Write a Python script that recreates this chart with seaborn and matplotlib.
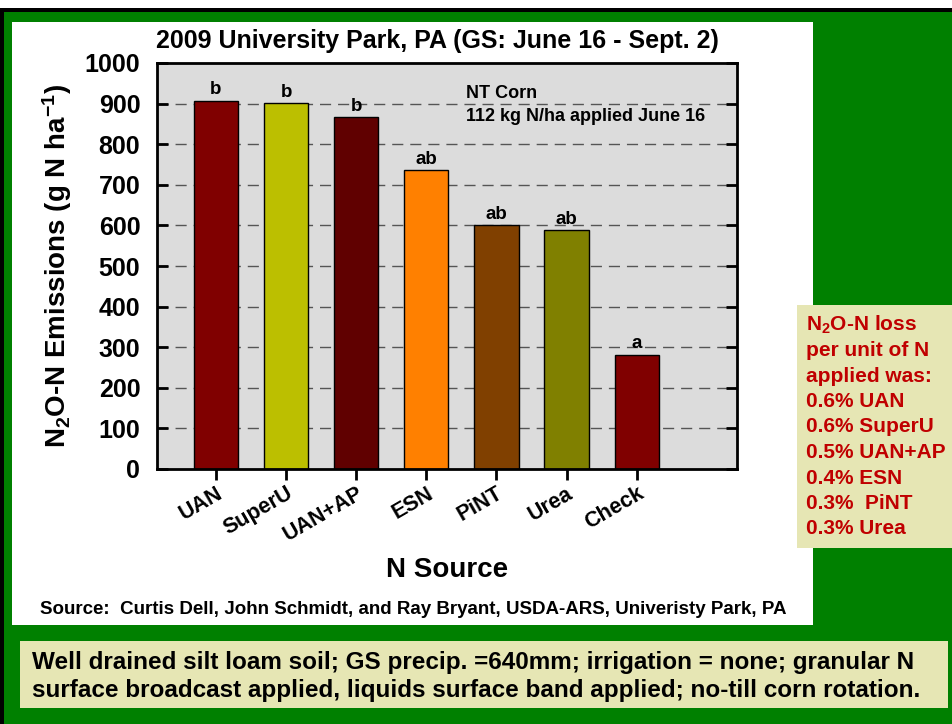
import matplotlib
matplotlib.use("Agg")
import matplotlib.pyplot as plt
from matplotlib.patches import Rectangle
import pandas as pd
import seaborn as sns

# data
sources = ["UAN", "SuperU", "UAN+AP", "ESN", "PiNT", "Urea", "Check"]
emissions = [907, 901, 867, 736, 600, 588, 281]
letters = ["b", "b", "b", "ab", "ab", "ab", "a"]
bar_colors = ["#800000", "#bcbf00", "#600000", "#ff8000", "#804000", "#808000", "#800000"]
yticks = [0, 100, 200, 300, 400, 500, 600, 700, 800, 900, 1000]
loss_lines = ["N$_\\mathbf{2}$O-N loss", "per unit of N", "applied was:", "0.6% UAN",
              "0.6% SuperU", "0.5% UAN+AP", "0.4% ESN", "0.3%  PiNT", "0.3% Urea"]

W, H = 953, 724

sns.set_style("ticks")
plt.rcParams["font.family"] = ["Liberation Sans", "DejaVu Sans"]
plt.rcParams["font.weight"] = "bold"
plt.rcParams["text.color"] = "black"
plt.rcParams["axes.labelcolor"] = "black"
plt.rcParams["xtick.color"] = "black"
plt.rcParams["ytick.color"] = "black"
plt.rcParams["mathtext.fontset"] = "custom"
plt.rcParams["mathtext.rm"] = "Liberation Sans:bold"
plt.rcParams["mathtext.bf"] = "Liberation Sans:bold"
plt.rcParams["mathtext.it"] = "Liberation Sans:bold"

fig = plt.figure(figsize=(W / 100, H / 100), dpi=100)
fig.patch.set_facecolor("white")


def box(x0, y0, x1, y1, color, z=0):
    # pixel box (top-left origin) -> figure fraction rectangle
    fig.patches.append(Rectangle((x0 / W, 1 - y1 / H), (x1 - x0) / W, (y1 - y0) / H,
                                 transform=fig.transFigure, facecolor=color,
                                 edgecolor="none", zorder=z))


def ftext(x, y, s, **kw):
    fig.text(x / W, 1 - y / H, s, **kw)


# frame
box(0, 8, W, H, "black", 0)
box(4, 12, W, H, "#008000", 1)
box(12, 22, 813, 625, "white", 2)
box(797, 305, W, 548, "#e6e6b4", 2)
box(20, 641, 948, 708, "#e6e6b4", 2)

ax = fig.add_axes([157 / W, 1 - 469 / H, (737 - 157) / W, (469 - 63) / H])
ax.set_facecolor("#dcdcdc")
ax.set_zorder(3)

df = pd.DataFrame({"source": sources, "emis": emissions})
sns.barplot(data=df, x="source", y="emis", hue="source", palette=bar_colors,
            width=0.63, edgecolor="black", linewidth=1, legend=False, ax=ax,
            saturation=1)

for i, (v, l) in enumerate(zip(emissions, letters)):
    ax.text(i, v + 6, l, ha="center", va="bottom", fontsize=13.5, fontweight="bold")

ax.set_xlim(-0.84, 7.43)
ax.set_ylim(0, 1000)
ax.set_yticks(yticks)
ax.set_yticklabels([str(t) for t in yticks], fontsize=18, fontweight="bold")
ax.set_axisbelow(True)
for t in yticks[1:-1]:
    ax.axhline(t, color="#555555", lw=1, ls=(0, (8, 5)), zorder=0.5)

ax.tick_params(axis="y", direction="in", left=True, right=True, length=8, width=2, pad=12)
ax.tick_params(axis="x", direction="out", length=8, width=2, pad=2)
ax.set_xticks(range(len(sources)))
ax.set_xticklabels(sources, rotation=30, ha="right", rotation_mode="anchor",
                   fontsize=15.5, fontweight="bold")
for s in ax.spines.values():
    s.set_linewidth(2)
    s.set_color("black")

ax.set_xlabel("N Source", fontsize=20, fontweight="bold", labelpad=8)
ax.set_ylabel("N$_2$O-N Emissions (g N ha$^{-1}$)", fontsize=20, fontweight="bold",
              labelpad=8)

ax.text(0.533, 0.925, "NT Corn", transform=ax.transAxes, fontsize=13, fontweight="bold",
        va="center")
ax.text(0.533, 0.868, "112 kg N/ha applied June 16", transform=ax.transAxes, fontsize=13,
        fontweight="bold", va="center")

ftext(437, 41, "2009 University Park, PA (GS: June 16 - Sept. 2)", fontsize=18,
      fontweight="bold", ha="center", va="center", zorder=5)
ftext(40, 609, "Source:  Curtis Dell, John Schmidt, and Ray Bryant, USDA-ARS, Univeristy Park, PA",
      fontsize=13.5, fontweight="bold", va="center", zorder=5)

for k, line in enumerate(loss_lines):
    ftext(806, 325 + k * 25.5, line, fontsize=15, fontweight="bold", color="#c00000",
          va="center", zorder=5)

ftext(32, 662, "Well drained silt loam soil; GS precip. =640mm; irrigation = none; granular N",
      fontsize=17.5, fontweight="bold", va="center", zorder=5)
ftext(32, 690, "surface broadcast applied, liquids surface band applied; no-till corn rotation.",
      fontsize=17.5, fontweight="bold", va="center", zorder=5)

fig.savefig("out.png", dpi=100)
